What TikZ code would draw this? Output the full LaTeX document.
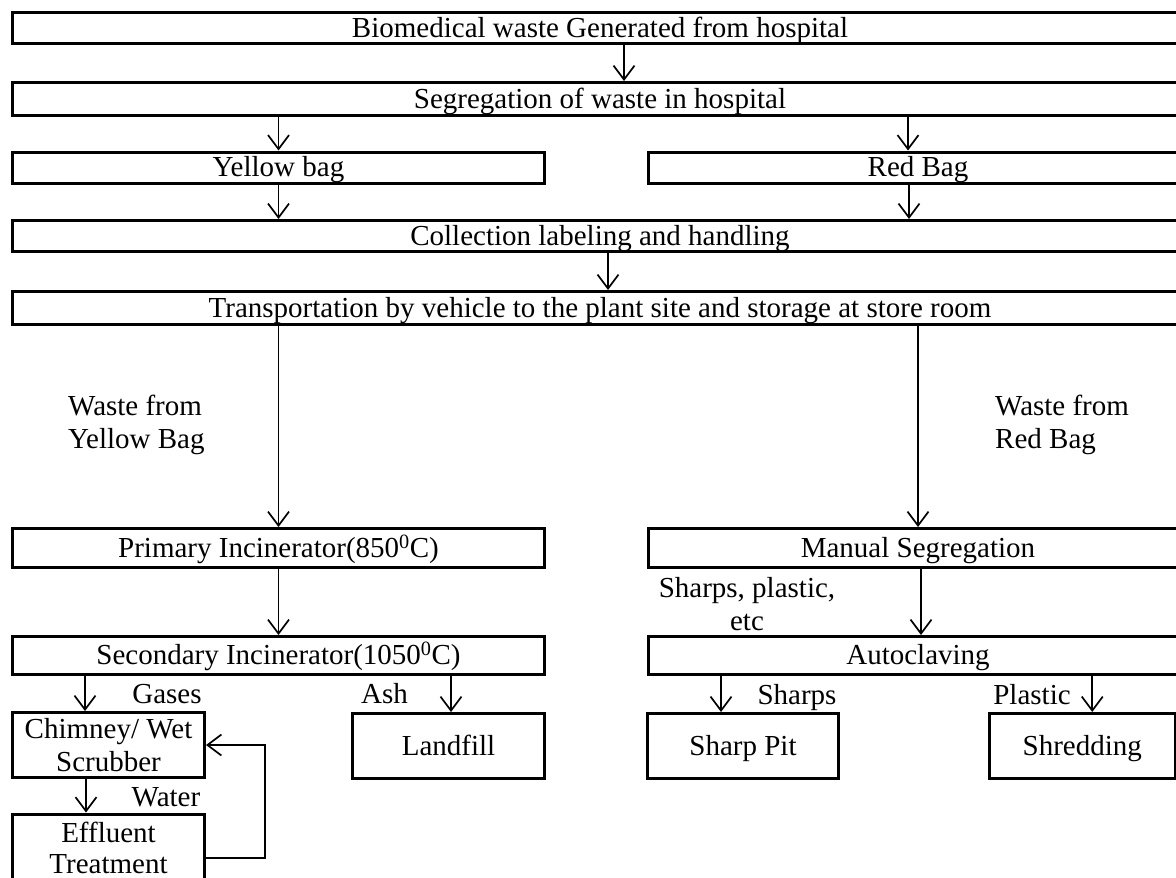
\documentclass[tikz,border=0pt]{standalone}
\usepackage{fontspec}
\setmainfont{Liberation Serif}
\usetikzlibrary{arrows.meta}
\begin{document}
\begin{tikzpicture}[x=1pt,y=-1pt,
  box/.style={draw, line width=3pt, rectangle, inner sep=0pt,
    font=\fontsize{29}{33}\selectfont, text height=18.5pt, text depth=0pt},
  mbox/.style={draw, line width=3pt, rectangle, inner sep=0pt, align=center,
    font=\fontsize{29}{33}\selectfont},
  arr/.style={line width=1.7pt, -{Straight Barb[length=14pt,width=21pt]}},
  lbl/.style={inner sep=0pt, font=\fontsize{29}{33}\selectfont, text height=19pt, text depth=6pt},
  mlbl/.style={inner sep=0pt, font=\fontsize{29}{33}\selectfont},
]
\clip (0,0) rectangle (1176,878);
\fill[white] (0,0) rectangle (1176,878);
% boxes
\node[box, minimum width=1175pt, minimum height=31pt] (top) at (600,28) {Biomedical waste Generated from hospital};
\node[box, minimum width=1175pt, minimum height=33pt] (seg) at (600,99) {Segregation of waste in hospital};
\node[box, minimum width=532pt, minimum height=31pt] (yel) at (278.5,167.5) {Yellow bag};
\node[box, minimum width=539pt, minimum height=31pt] (red) at (918,167.5) {Red Bag};
\node[box, minimum width=1175pt, minimum height=31pt] (coll) at (600,236) {Collection labeling and handling};
\node[box, minimum width=1175pt, minimum height=33pt] (trans) at (600,308) {Transportation by vehicle to the plant site and storage at store room};
\node[box, minimum width=532pt, minimum height=39pt] (prim) at (278.5,548) {Primary Incinerator(850\textsuperscript{0}C)};
\node[box, minimum width=539pt, minimum height=39pt] (man) at (918,548) {Manual Segregation};
\node[box, minimum width=532pt, minimum height=38pt] (sec) at (278.5,655.5) {Secondary Incinerator(1050\textsuperscript{0}C)};
\node[box, minimum width=539pt, minimum height=38pt] (auto) at (918,655.5) {Autoclaving};
\node[mbox, minimum width=192pt, minimum height=65pt] (chim) at (108.5,745) {Chimney/ Wet\\Scrubber};
\node[box, minimum width=192pt, minimum height=65pt] (land) at (448.5,746) {Landfill};
\node[box, minimum width=191pt, minimum height=65pt] (sharp) at (743,746) {Sharp Pit};
\node[box, minimum width=185.5pt, minimum height=65pt] (shred) at (1082.25,746) {Shredding};
\node[mbox, minimum width=192pt, minimum height=68pt, font=\fontsize{29}{32}\selectfont] (eff) at (108.5,848) {Effluent\\[-1pt]Treatment};
% labels
\node[mlbl, anchor=west, align=left] (wy) at (68,425) {Waste from\\Yellow Bag};
\node[mlbl, anchor=west, align=left] (wr) at (995,425) {Waste from\\Red Bag};
\node[lbl] (gas) at (167,697) {Gases};
\node[lbl] (ash) at (384.5,697) {Ash};
\node[lbl] (wat) at (166,800) {Water};
\node[mlbl, align=center] (spe) at (747,604) {Sharps, plastic,\\etc};
\node[lbl] (shl) at (797,698) {Sharps};
\node[lbl] (pll) at (1032,698) {Plastic};
% connectors
\draw[arr] ([xshift=24pt]top.south) -- ([xshift=24pt]top.south |- seg.north);
\draw[arr] (seg.south -| yel.north) -- (yel.north);
\draw[arr] ([xshift=-10pt]red.north |- seg.south) -- ([xshift=-10pt]red.north);
\draw[arr] (yel.south) -- (yel.south |- coll.north);
\draw[arr] ([xshift=-9pt]red.south) -- ([xshift=-9pt]red.south |- coll.north);
\draw[arr] ([xshift=8pt]coll.south) -- ([xshift=8pt]coll.south |- trans.north);
\draw[arr] (trans.south -| prim.north) -- (prim.north);
\draw[arr] (trans.south -| man.north) -- (man.north);
\draw[arr] (prim.south) -- (prim.south |- sec.north);
\draw[arr] ([xshift=3pt]man.south) -- ([xshift=3pt]man.south |- auto.north);
\draw[arr] ([xshift=-23.5pt]chim.north |- sec.south) -- ([xshift=-23.5pt]chim.north);
\draw[arr] ([xshift=2.5pt]land.north |- sec.south) -- ([xshift=2.5pt]land.north);
\draw[arr] ([xshift=-22.5pt]chim.south) -- ([xshift=-22.5pt]chim.south |- eff.north);
\coordinate (fb) at (265,858);
\draw[arr] (eff.east |- fb) -- (fb) |- (chim.east);
\draw[arr] ([xshift=-22pt]sharp.north |- auto.south) -- ([xshift=-22pt]sharp.north);
\draw[arr] ([xshift=10pt]shred.north |- auto.south) -- ([xshift=10pt]shred.north);
\end{tikzpicture}
\end{document}
